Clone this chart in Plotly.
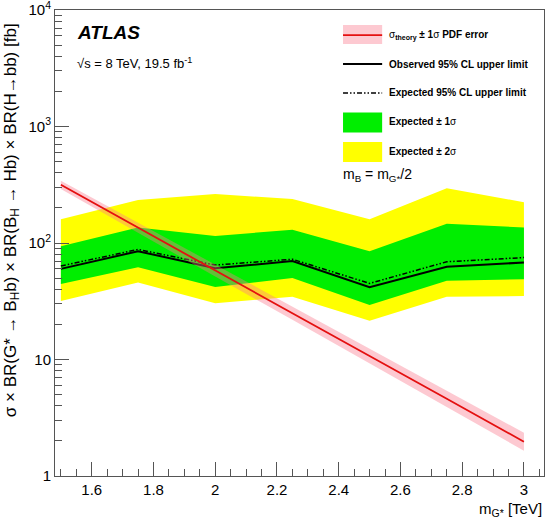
import plotly.graph_objs as go

# masses of G* [TeV]
mass = [1.5, 1.75, 2.0, 2.25, 2.5, 2.75, 3.0]

# limits [fb]
observed = [60, 85, 60.7, 70, 41.7, 62.6, 68]
expected = [63.5, 88, 64.7, 72.5, 45, 69, 75]
exp_p1 = [94, 136, 115, 130, 85, 146, 136]
exp_m1 = [44.5, 62, 42, 50, 29.4, 47.5, 48.8]
exp_p2 = [160, 234, 263, 239, 160, 295, 224]
exp_m2 = [31.8, 45.7, 30.4, 34.6, 21.5, 34.6, 35]

# theory cross section and PDF error band
theory = [316, 135, 58, 25, 10.7, 4.6, 1.97]
theory_up = [343, 150, 65.4, 28.6, 12.4, 5.4, 2.35]
theory_down = [291, 122, 51.5, 21.9, 9.2, 3.9, 1.65]

FONT = 'Liberation Sans, Arial, Helvetica, sans-serif'
AXIS_COL = '#555555'

fig = go.Figure()


def band(lo, hi, color):
    fig.add_trace(go.Scatter(x=mass, y=lo, mode='lines', line=dict(width=0),
                             showlegend=False, hoverinfo='skip'))
    fig.add_trace(go.Scatter(x=mass, y=hi, mode='lines', line=dict(width=0),
                             fill='tonexty', fillcolor=color,
                             showlegend=False, hoverinfo='skip'))


band(exp_m2, exp_p2, '#ffff00')
band(exp_m1, exp_p1, '#00ee00')

fig.add_trace(go.Scatter(x=mass, y=expected, mode='lines', showlegend=False,
                         line=dict(color='black', width=1.5,
                                   dash='5px,2px,1.5px,2px,1.5px,2px')))
fig.add_trace(go.Scatter(x=mass, y=observed, mode='lines', showlegend=False,
                         line=dict(color='black', width=2)))

band(theory_down, theory_up, 'rgba(250,120,140,0.40)')
fig.add_trace(go.Scatter(x=mass, y=theory, mode='lines', showlegend=False,
                         line=dict(color='#e41010', width=1.8)))

# hand-made legend (paper coordinates)
sw_x0, sw_x1, txt_x = 0.589, 0.669, 0.679
fig.add_shape(type='rect', xref='paper', yref='paper', x0=sw_x0, x1=sw_x1,
              y0=0.927, y1=0.968, fillcolor='rgba(250,120,140,0.40)', line_width=0)
fig.add_shape(type='line', xref='paper', yref='paper', x0=sw_x0, x1=sw_x1,
              y0=0.946, y1=0.946, line=dict(color='#e41010', width=1.8))
fig.add_shape(type='line', xref='paper', yref='paper', x0=sw_x0, x1=sw_x1,
              y0=0.884, y1=0.884, line=dict(color='black', width=2))
fig.add_shape(type='line', xref='paper', yref='paper', x0=sw_x0, x1=sw_x1,
              y0=0.822, y1=0.822,
              line=dict(color='black', width=1.5, dash='5px,2px,1.5px,2px,1.5px,2px'))
fig.add_shape(type='rect', xref='paper', yref='paper', x0=sw_x0, x1=sw_x1,
              y0=0.737, y1=0.780, fillcolor='#00ee00', line_width=0)
fig.add_shape(type='rect', xref='paper', yref='paper', x0=sw_x0, x1=sw_x1,
              y0=0.674, y1=0.717, fillcolor='#ffff00', line_width=0)

legend_texts = [
    (0.946, '<span style="font-weight:normal">σ</span><sub>theory</sub> ± 1<span style="font-weight:normal">σ</span> PDF error'),
    (0.884, 'Observed 95% CL upper limit'),
    (0.822, 'Expected 95% CL upper limit'),
    (0.760, 'Expected ± 1<span style="font-weight:normal">σ</span>'),
    (0.696, 'Expected ± 2<span style="font-weight:normal">σ</span>'),
]
annotations = []
for yy, t in legend_texts:
    annotations.append(dict(x=txt_x, y=yy, xref='paper', yref='paper', text='<b>' + t + '</b>',
                            showarrow=False, xanchor='left', yanchor='middle',
                            font=dict(family=FONT, size=10, color='black')))

annotations += [
    dict(x=0.585, y=0.646, xref='paper', yref='paper', showarrow=False,
         text='m<sub>B</sub> = m<sub>G*</sub>/2', xanchor='left', yanchor='middle',
         font=dict(family=FONT, size=14, color='black')),
    dict(x=0.041, y=0.951, xref='paper', yref='paper', showarrow=False,
         text='<b><i>ATLAS</i></b>', xanchor='left', yanchor='middle',
         font=dict(family=FONT, size=19, color='black')),
    dict(x=0.041, y=0.886, xref='paper', yref='paper', showarrow=False,
         text='√s = 8 TeV, 19.5 fb<sup>-1</sup>', xanchor='left', yanchor='middle',
         font=dict(family=FONT, size=13, color='black')),
    dict(x=1.0, y=-0.072, xref='paper', yref='paper', showarrow=False,
         text='m<sub>G*</sub> [TeV]', xanchor='right', yanchor='middle',
         font=dict(family=FONT, size=15, color='black')),
    dict(x=-0.088, y=0.549, xref='paper', yref='paper', showarrow=False, textangle=-90,
         text='σ × BR(G* → B<sub>H</sub>b) × BR(B<sub>H</sub> → Hb) × BR(H→bb) [fb]',
         xanchor='center', yanchor='middle',
         font=dict(family=FONT, size=17, color='black')),
]

fig.update_layout(
    width=551, height=520,
    margin=dict(l=55, r=7, t=10, b=44),
    paper_bgcolor='white', plot_bgcolor='white',
    showlegend=False,
    annotations=annotations,
    font=dict(family=FONT, size=15, color='black'),
    xaxis=dict(range=[1.481, 3.065], showgrid=False, zeroline=False, automargin=False,
               showline=True, linecolor=AXIS_COL, linewidth=1, mirror=True,
               ticks='inside', ticklen=14, tickcolor=AXIS_COL,
               tick0=1.6, dtick=0.2, ticklabeloverflow='allow',
               minor=dict(ticks='inside', ticklen=7, tickcolor=AXIS_COL, dtick=0.05,
                          tick0=1.5, showgrid=False),
               tickfont=dict(size=15)),
    yaxis=dict(type='log', range=[0, 4], showgrid=False, zeroline=False, automargin=False,
               showline=True, linecolor=AXIS_COL, linewidth=1, mirror=True,
               ticks='inside', ticklen=14, tickcolor=AXIS_COL,
               tickvals=[1, 10, 100, 1000, 10000], ticklabeloverflow='allow',
               ticktext=['1', '10', '10<sup>2</sup>', '10<sup>3</sup>', '10<sup>4</sup>'],
               minor=dict(ticks='inside', ticklen=7, tickcolor=AXIS_COL, dtick='D1',
                          showgrid=False),
               tickfont=dict(size=15)),
)

# page body has a default margin; drop it so the figure sits at the window corner
fig.write_html('out.html', config={'displayModeBar': False},
               post_script="document.body.style.margin='0';")
